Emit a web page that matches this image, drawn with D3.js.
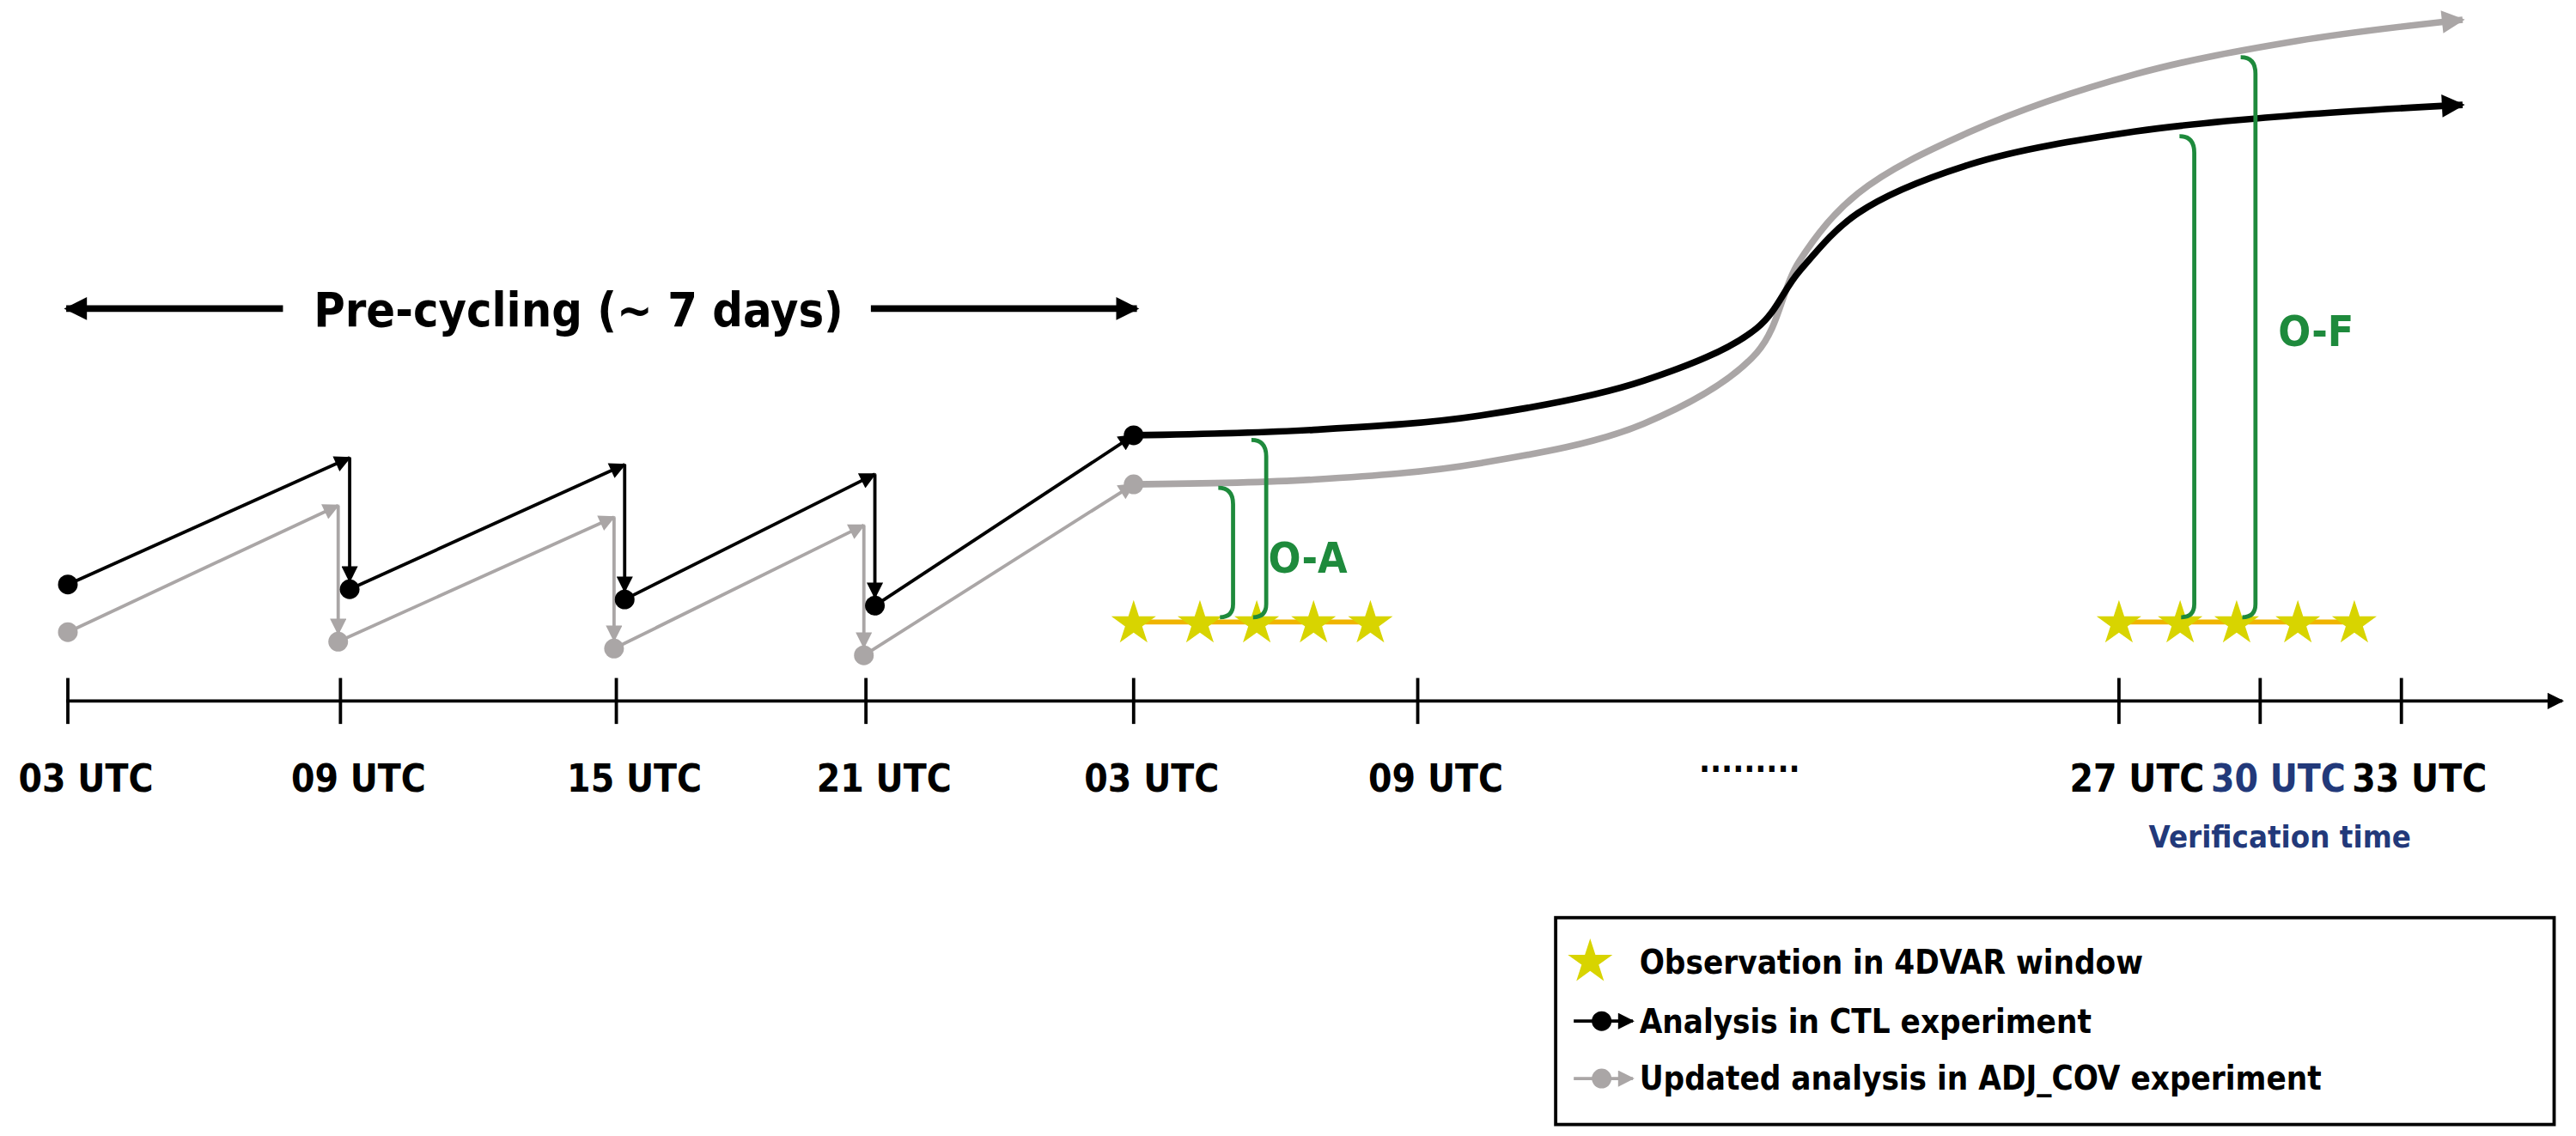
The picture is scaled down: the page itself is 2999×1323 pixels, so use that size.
<!DOCTYPE html>
<html><head><meta charset="utf-8">
<script src="https://cdn.jsdelivr.net/npm/d3@7"></script>
<style>
body{margin:0;background:#fff}
text{font-family:"DejaVu Sans Condensed","DejaVu Sans",sans-serif;font-weight:bold}
</style></head>
<body><div id="container"></div>
<script>
// axis ticks (hours since first 03 UTC day, gap after 33)
let tickHours = [3, 9, 15, 21, 27, 33, 51, 54, 57]
let tickLabels = ['03 UTC','09 UTC','15 UTC','21 UTC','03 UTC','09 UTC','27 UTC','30 UTC','33 UTC']

// pre-cycling analyses and forecast ends
let cycleHours = [3, 9, 15, 21, 27]
let ctlAnalysis = [17.1, 16.4, 14.9, 14.0, 39.0]
let ctlForecastEnd = [35.7, 34.7, 33.3]
let adjAnalysis = [10.1, 8.7, 7.7, 6.7, 31.8]
let adjForecastEnd = [28.7, 27.0, 25.8]

// long forecasts
let fcHours = [27, 30.8, 34.6, 38.8, 41.7, 42.8, 44.3, 47.2, 51.35, 54.8, 58.3]
let ctlForecast = [39.0, 39.8, 41.9, 47.0, 54.7, 63.1, 71.6, 78.8, 83.6, 86.0, 87.5]
let adjForecast = [31.8, 32.5, 34.9, 40.7, 51.1, 64.6, 74.5, 83.6, 92.0, 96.9, 100]

// observations
let obsHours1 = [27, 28.4, 29.6, 30.8, 32]
let obsHours2 = [51, 52.3, 53.5, 54.8, 56]
let obsValue = 11.6

// O-A / O-F brackets
let bracketHours = [29.1, 29.8, 52.6, 53.9]
let bracketTop = [31.3, 38.3, 82.9, 94.5]
let bracketBottom = 12.3

let W = 1568, H = 692
let green = '#1e8a3c', gray = '#aaa6a6', navy = '#22397a', yellow = '#d8d400'

let svg = d3.select('#container').append('svg')
  .attr('width', 2999).attr('height', 1323)
  .attr('viewBox', `0 0 ${W} ${H}`)

let x = d3.scaleLinear().domain([3, 9, 15, 21, 27, 33, 51, 57])
  .range([41, 207, 375, 527, 690, 863, 1290, 1462])
let y = d3.scaleLinear().domain([0, 100]).range([427, 12])

let defs = svg.append('defs')
function marker(id, color, w, h) {
  defs.append('marker').attr('id', id).attr('viewBox', '0 0 10 10')
    .attr('refX', 9).attr('refY', 5).attr('markerWidth', w).attr('markerHeight', h)
    .attr('markerUnits', 'userSpaceOnUse').attr('orient', 'auto')
    .append('path').attr('d', 'M0,0L10,5L0,10Z').attr('fill', color)
}
marker('aBlack', '#000', 11, 10)
marker('aGray', gray, 11, 10)
marker('aBigBlack', '#000', 16, 14)
marker('aBigGray', gray, 16, 14)

// time axis
svg.append('line').attr('x1', 40).attr('x2', 1560).attr('y1', 427).attr('y2', 427)
  .attr('stroke', '#000').attr('stroke-width', 2).attr('marker-end', 'url(#aBlack)')
let ticks = svg.selectAll('.tick').data(tickHours).enter().append('g')
  .attr('transform', d => `translate(${x(d)},0)`)
ticks.append('line').attr('y1', 413).attr('y2', 441).attr('stroke', '#000').attr('stroke-width', 2)
ticks.append('text').attr('x', 11).attr('y', 482).attr('text-anchor', 'middle').attr('font-size', 23)
  .attr('fill', (d, i) => i == 7 ? navy : '#000').text((d, i) => tickLabels[i])
svg.append('text').attr('x', 1388).attr('y', 516).attr('text-anchor', 'middle')
  .attr('font-size', 19).attr('fill', navy).text('Verification time')
svg.append('text').attr('x', 1065).attr('y', 470).attr('text-anchor', 'middle')
  .attr('font-size', 20).text('.........')

// pre-cycling arrows
svg.append('line').attr('x1', 172).attr('x2', 40).attr('y1', 188).attr('y2', 188)
  .attr('stroke', '#000').attr('stroke-width', 4).attr('marker-end', 'url(#aBigBlack)')
svg.append('line').attr('x1', 530).attr('x2', 692).attr('y1', 188).attr('y2', 188)
  .attr('stroke', '#000').attr('stroke-width', 4).attr('marker-end', 'url(#aBigBlack)')
svg.append('text').attr('x', 352).attr('y', 199).attr('text-anchor', 'middle')
  .attr('font-size', 29).text('Pre-cycling (~ 7 days)')

// sawtooth cycles
function cycles(analysis, fcEnd, shift, color, mk) {
  let g = svg.append('g')
  let segs = []
  for (let i = 0; i < 4; i++) {
    let h0 = cycleHours[i] + (i == 0 ? 0 : shift), h1 = cycleHours[i + 1] + shift
    if (i < 3) {
      segs.push([h0, analysis[i], h1, fcEnd[i]])
      segs.push([h1, fcEnd[i], h1, analysis[i + 1] + 1.2])
    } else {
      segs.push([h0, analysis[i], cycleHours[4], analysis[4]])
    }
  }
  g.selectAll('line').data(segs).enter().append('line')
    .attr('x1', d => x(d[0])).attr('y1', d => y(d[1]))
    .attr('x2', d => x(d[2])).attr('y2', d => y(d[3]))
    .attr('stroke', color).attr('stroke-width', 2).attr('marker-end', `url(#${mk})`)
  g.selectAll('circle').data(analysis).enter().append('circle')
    .attr('cx', (d, i) => x(cycleHours[i] + (i == 0 || i == 4 ? 0 : shift))).attr('cy', d => y(d))
    .attr('r', 6).attr('fill', color)
}

// long forecasts
let line = d3.line().x((d, i) => x(fcHours[i])).y(d => y(d)).curve(d3.curveCatmullRom)
svg.append('path').attr('d', line(adjForecast)).attr('fill', 'none')
  .attr('stroke', gray).attr('stroke-width', 4).attr('marker-end', 'url(#aBigGray)')
svg.append('path').attr('d', line(ctlForecast)).attr('fill', 'none')
  .attr('stroke', '#000').attr('stroke-width', 4).attr('marker-end', 'url(#aBigBlack)')

cycles(adjAnalysis, adjForecastEnd, -0.05, gray, 'aGray')
cycles(ctlAnalysis, ctlForecastEnd, 0.2, '#000', 'aBlack')

// observations
let star = d3.symbol().type(d3.symbolStar).size(230)
function obs(hours) {
  svg.append('line').attr('x1', x(hours[0])).attr('x2', x(hours[4]))
    .attr('y1', y(obsValue)).attr('y2', y(obsValue)).attr('stroke', '#f0b400').attr('stroke-width', 3)
  svg.append('g').selectAll('path').data(hours).enter().append('path')
    .attr('d', star).attr('fill', yellow)
    .attr('transform', d => `translate(${x(d)},${y(obsValue) + 1})`)
}
obs(obsHours1)
obs(obsHours2)

// brackets
svg.append('g').selectAll('path').data(bracketHours).enter().append('path')
  .attr('d', (d, i) => {
    let bx = x(d), t = y(bracketTop[i]), b = y(bracketBottom)
    return `M${bx - 9},${t} Q${bx},${t} ${bx},${t + 10} L${bx},${b - 8} Q${bx},${b} ${bx - 8},${b}`
  })
  .attr('fill', 'none').attr('stroke', green).attr('stroke-width', 2.5)
svg.append('text').attr('x', 772).attr('y', 349).attr('font-size', 26).attr('fill', green).text('O-A')
svg.append('text').attr('x', 1387).attr('y', 211).attr('font-size', 26).attr('fill', green).text('O-F')

// legend
let lg = svg.append('g')
lg.append('rect').attr('x', 947).attr('y', 559).attr('width', 608).attr('height', 126)
  .attr('fill', '#fff').attr('stroke', '#000').attr('stroke-width', 2)
let legendLabels = ['Observation in 4DVAR window', 'Analysis in CTL experiment', 'Updated analysis in ADJ_COV experiment']
let ly = [586, 622, 657]
lg.append('path').attr('d', star).attr('fill', yellow).attr('transform', `translate(968,${ly[0]})`)
;[['#000', 'aBlack'], [gray, 'aGray']].forEach((c, i) => {
  lg.append('line').attr('x1', 958).attr('x2', 994).attr('y1', ly[i + 1]).attr('y2', ly[i + 1])
    .attr('stroke', c[0]).attr('stroke-width', 2).attr('marker-end', `url(#${c[1]})`)
  lg.append('circle').attr('cx', 975).attr('cy', ly[i + 1]).attr('r', 6).attr('fill', c[0])
})
lg.selectAll('text').data(legendLabels).enter().append('text')
  .attr('x', 998).attr('y', (d, i) => ly[i] + 7).attr('font-size', 20).text(d => d)
</script></body></html>
